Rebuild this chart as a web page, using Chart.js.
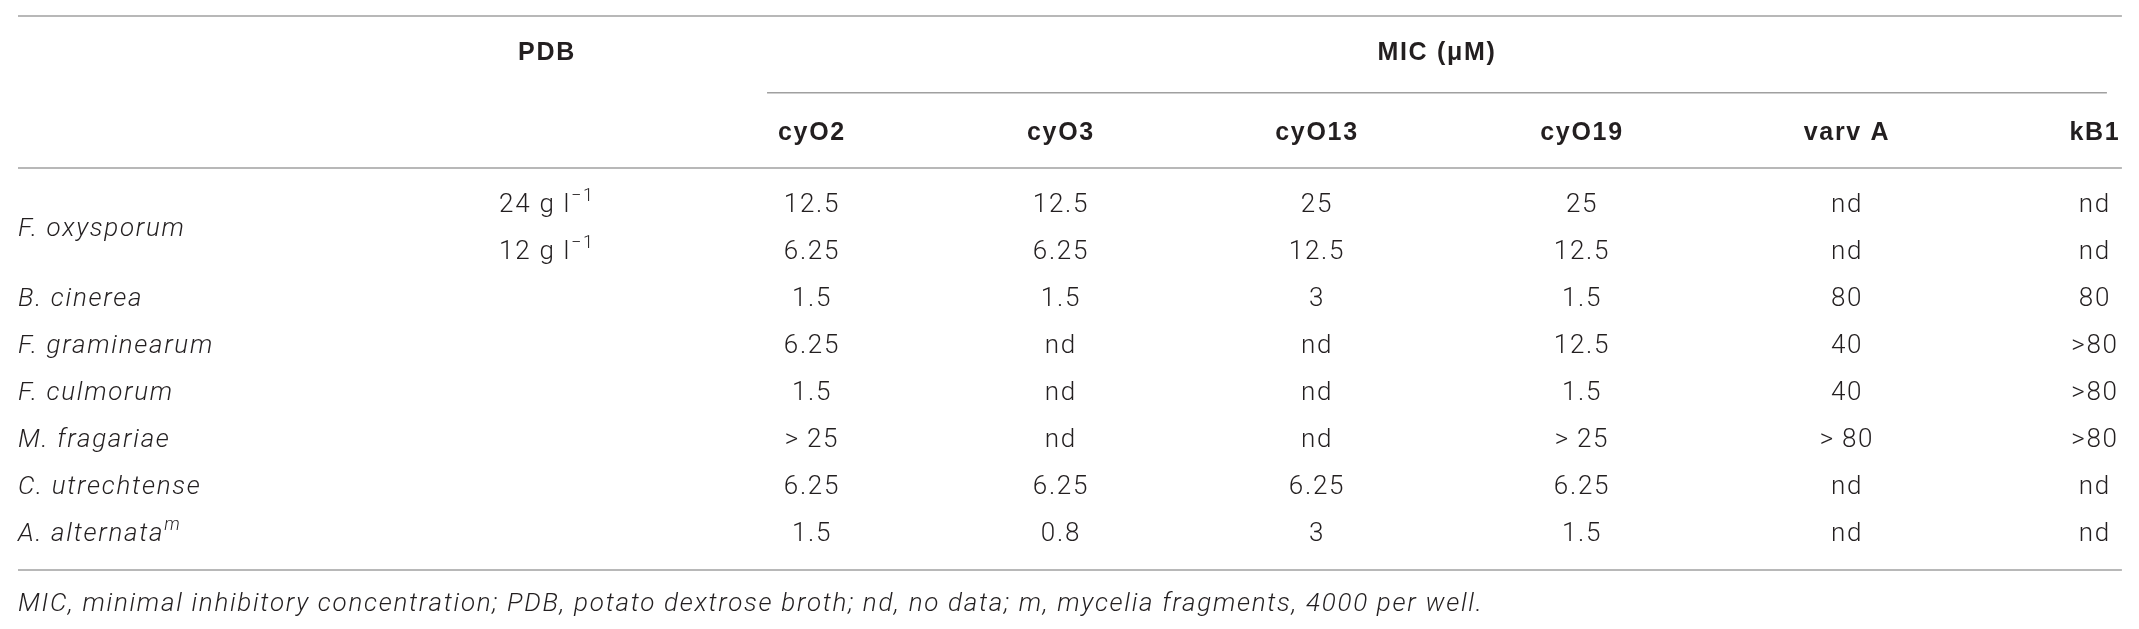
<!DOCTYPE html>
<html>
<head>
<meta charset="utf-8">
<script src="https://cdn.jsdelivr.net/npm/chart.js@4"></script>
<style>
    html, body { margin: 0; padding: 0; background: #ffffff; }
    #table { display: block; }
</style>
</head>
<body>
<canvas id="table" width="2139" height="629"></canvas>
<script>
// table content
const COMPOUNDS = ['cyO2', 'cyO3', 'cyO13', 'cyO19', 'varv A', 'kB1']
const SPECIES = ['F. oxysporum', 'B. cinerea', 'F. graminearum', 'F. culmorum', 'M. fragariae', 'C. utrechtense', 'A. alternata']
const SPECIES_SUP = ['', '', '', '', '', '', 'm']
const PDB_LEVELS = ['24 g l', '12 g l']
const PDB_SUP = '\u22121'
const CYO2 = ['12.5', '6.25', '1.5', '6.25', '1.5', '>\u200925', '6.25', '1.5']
const CYO3 = ['12.5', '6.25', '1.5', 'nd', 'nd', 'nd', '6.25', '0.8']
const CYO13 = ['25', '12.5', '3', 'nd', 'nd', 'nd', '6.25', '3']
const CYO19 = ['25', '12.5', '1.5', '12.5', '1.5', '>\u200925', '6.25', '1.5']
const VARV_A = ['nd', 'nd', '80', '40', '40', '>\u200980', 'nd', 'nd']
const KB1 = ['nd', 'nd', '80', '>80', '>80', '>80', 'nd', 'nd']
const VALUES = [CYO2, CYO3, CYO13, CYO19, VARV_A, KB1]
const FOOTNOTE = 'MIC, minimal inhibitory concentration; PDB, potato dextrose broth; nd, no data; m, mycelia fragments, 4000 per well.'

// layout (x in percent of the width, y in data rows)
const X_LEFT = 0.84
const X_PDB = 25.57
const X_MIC = 67.18
const X_COLS = [37.96, 49.6, 61.57, 73.96, 86.35, 97.94]
const Y_GROUP = -3.26
const Y_HEAD = -1.56
const Y_FOOT = 8.49

const TEXT_COLOR = '#231f20'
const RULE_COLOR = '#a0a0a0'
const LIGHT = '300 26px Roboto'
const LIGHT_ITALIC = 'italic 300 26px Roboto'
const BOLD = 'bold 25px "Liberation Sans"'
const TRACKING = '1.7px'

function rule(x1, x2, y) {
    return {
        'type': 'line',
        'data': [{'x': x1, 'y': y}, {'x': x2, 'y': y}],
        'borderColor': RULE_COLOR,
        'borderWidth': 1.5,
        'pointRadius': 0
    }
}

function text_set(points, font, align) {
    return {
        'type': 'scatter',
        'data': points,
        'pointRadius': 0,
        'textFont': font,
        'textAlign': align
    }
}

let datasets = [
    rule(X_LEFT, 99.2, -4.03),
    rule(35.86, 98.5, -2.39),
    rule(X_LEFT, 99.2, -0.79),
    rule(X_LEFT, 99.2, 7.78),
    text_set([{'x': X_PDB, 'y': Y_GROUP, 't': 'PDB'}, {'x': X_MIC, 'y': Y_GROUP, 't': 'MIC (\u03bcM)'}], BOLD, 'center'),
    text_set(COMPOUNDS.map((c, i) => ({'x': X_COLS[i], 'y': Y_HEAD, 't': c})), BOLD, 'center'),
    text_set(SPECIES.map((s, i) => ({'x': X_LEFT, 'y': i === 0 ? 0.5 : i + 1, 't': s, 'sup': SPECIES_SUP[i]})), LIGHT_ITALIC, 'left'),
    text_set(PDB_LEVELS.map((p, i) => ({'x': X_PDB, 'y': i, 't': p, 'sup': PDB_SUP})), LIGHT, 'center'),
    text_set([{'x': X_LEFT, 'y': Y_FOOT, 't': FOOTNOTE}], LIGHT_ITALIC, 'left')
]
VALUES.forEach((col, k) => {
    datasets.push(text_set(col.map((v, i) => ({'x': X_COLS[k], 'y': i, 't': v})), LIGHT, 'center'))
})

const cell_text = {
    'id': 'cell_text',
    afterDatasetsDraw(chart) {
        let ctx = chart.ctx
        ctx.save()
        ctx.fillStyle = TEXT_COLOR
        ctx.textBaseline = 'middle'
        ctx.textAlign = 'left'
        ctx.letterSpacing = TRACKING
        chart.data.datasets.forEach((ds, di) => {
            if (!ds.textFont) return
            chart.getDatasetMeta(di).data.forEach((el, i) => {
                let item = ds.data[i]
                ctx.font = ds.textFont
                let w = ctx.measureText(item.t).width
                let sup_w = 0
                let sup_font = ds.textFont.replace('26px', '18px')
                if (item.sup) {
                    ctx.font = sup_font
                    sup_w = ctx.measureText(item.sup).width
                }
                let x = el.x
                if (ds.textAlign === 'center') x = el.x - (w + sup_w) / 2
                ctx.font = ds.textFont
                ctx.fillText(item.t, x, el.y + 1)
                if (item.sup) {
                    ctx.font = sup_font
                    ctx.fillText(item.sup, x + w, el.y - 8)
                }
            })
        })
        ctx.restore()
    }
}

new Chart(
    document.getElementById('table').getContext('2d'),
    {
        'type': 'scatter',
        'data': {'datasets': datasets},
        'options': {
            'responsive': false,
            'devicePixelRatio': 1,
            'animation': false,
            'layout': {'padding': 0},
            'plugins': {
                'legend': {'display': false},
                'tooltip': {'enabled': false}
            },
            'scales': {
                'x': {'type': 'linear', 'min': 0, 'max': 100, 'display': false},
                'y': {'type': 'linear', 'min': -4.37, 'max': 9.04, 'reverse': true, 'display': false}
            }
        },
        'plugins': [cell_text]
    })
</script>
</body>
</html>
